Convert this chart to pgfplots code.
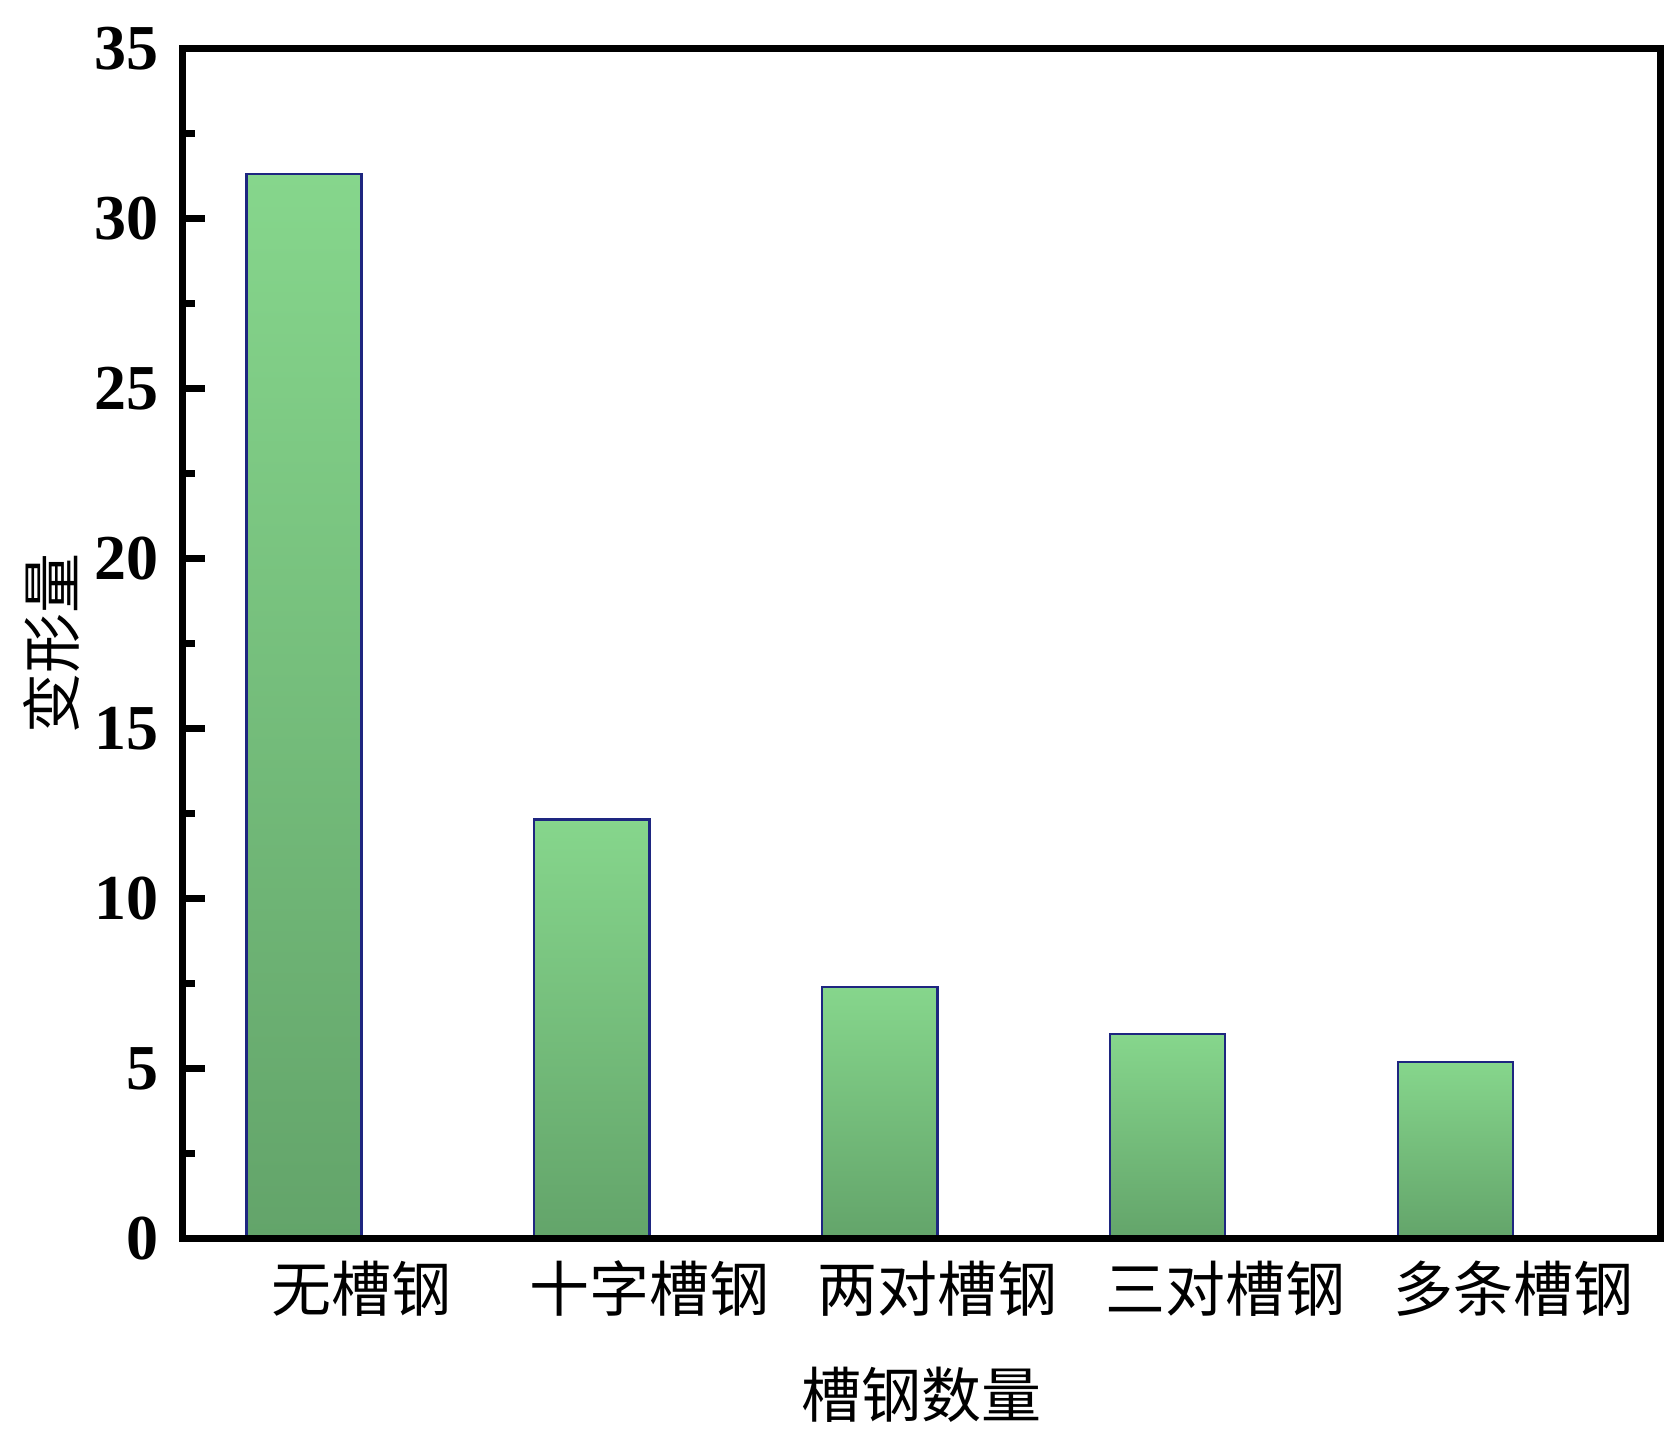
\documentclass[border=0pt]{standalone}
\usepackage{fontspec}
\setmainfont{Liberation Serif}
\newfontfamily\cjk{Noto Sans CJK SC}
\usepackage{pgfplots}
\pgfplotsset{compat=1.18}
\definecolor{barTop}{RGB}{134,214,140}
\definecolor{barBot}{RGB}{99,164,106}
\definecolor{barEdge}{RGB}{30,38,128}
\pgfplotsset{greenbar/.style={ybar, bar width=0.4, bar shift=0pt,
    draw=barEdge, line width=0.6pt, top color=barTop, bottom color=barBot}}
\begin{document}
\begin{tikzpicture}
\begin{axis}[
    scale only axis,
    width=369.25pt, height=297.6pt,
    xmin=0.58, xmax=5.71,
    ymin=0, ymax=35,
    axis on top,
    axis line style={line width=1.75pt},
    ytick={0,5,...,35},
    minor y tick num=1,
    ytick pos=left,
    tick align=inside,
    major tick length=5.5pt,
    minor tick length=3pt,
    y tick style={line width=1.75pt, black},
    xtick={1.2,2.2,3.2,4.2,5.2},
    xticklabels={无槽钢,十字槽钢,两对槽钢,三对槽钢,多条槽钢},
    x tick style={draw=none},
    /pgf/number format/assume math mode=true,
    y tick label style={font=\fontsize{16}{19}\selectfont\bfseries, xshift=-2.5pt},
    x tick label style={font=\cjk\fontsize{15}{18}\selectfont, yshift=-2pt},
    xlabel={槽钢数量},
    ylabel={变形量},
    xlabel style={font=\cjk\fontsize{15}{18}\selectfont, at={(axis description cs:0.5,-0.131)}, anchor=center},
    ylabel style={font=\cjk\fontsize{15}{18}\selectfont, at={(axis description cs:-0.0887,0.5)}, anchor=center},
]
\addplot[greenbar] coordinates {(1,31.3)};
\addplot[greenbar] coordinates {(2,12.33)};
\addplot[greenbar] coordinates {(3,7.4)};
\addplot[greenbar] coordinates {(4,6.02)};
\addplot[greenbar] coordinates {(5,5.2)};
\coordinate (sw) at (rel axis cs:0,0);
\coordinate (ne) at (rel axis cs:1,1);
\end{axis}
\pgfresetboundingbox
\path ([shift={(-45.75pt,-51pt)}]sw) rectangle ([shift={(3.25pt,12.1pt)}]ne);
\end{tikzpicture}
\end{document}
